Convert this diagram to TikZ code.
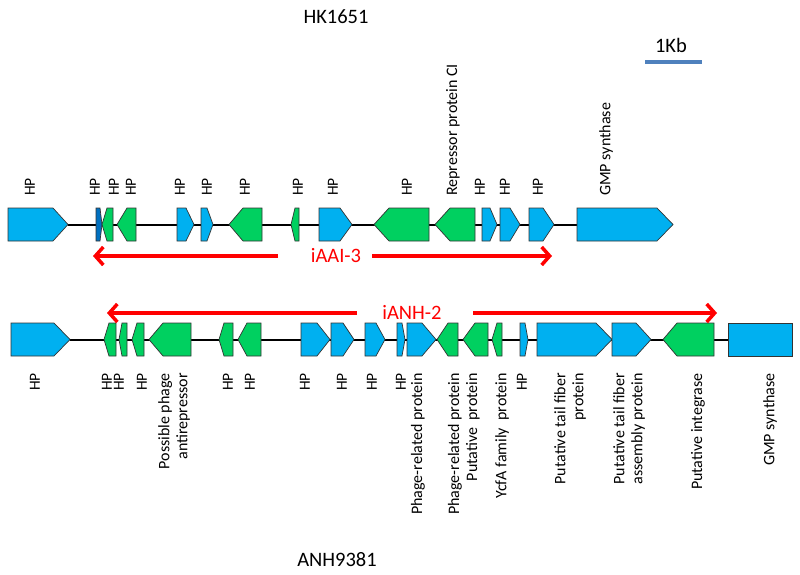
\documentclass[tikz,border=0pt]{standalone}
\usepackage{fontspec}
\setmainfont{Carlito}
\usetikzlibrary{arrows.meta}
\definecolor{gblue}{RGB}{0,176,240}
\definecolor{ggreen}{RGB}{0,208,96}
\definecolor{gdark}{RGB}{0,112,192}
\definecolor{scalecol}{RGB}{79,129,189}
\tikzset{
  gene/.style={draw=black!80,line width=0.7pt,line join=miter},
  backbone/.style={draw=black,line width=2pt},
  lbtop/.style={rotate=90,anchor=west,inner sep=0pt,font=\fontsize{15.5}{16}\selectfont},
  lbtoplong/.style={rotate=90,anchor=west,inner sep=0pt,font=\fontsize{16}{18}\selectfont},
  lbbot/.style={rotate=90,anchor=east,inner sep=0pt,font=\fontsize{15.5}{16}\selectfont},
  lbbotlong/.style={rotate=90,anchor=east,inner sep=0pt,align=right,font=\fontsize{16}{18}\selectfont},
  title/.style={inner sep=0pt,font=\fontsize{20.5}{24}\selectfont},
  redlab/.style={inner sep=0pt,text=red,font=\fontsize{20.5}{24}\selectfont},
  redarrow/.style={draw=red,line width=3.5pt,-{Straight Barb[length=8pt,width=18pt]}}
}
\newcommand\gR[5]{\draw[gene,fill=#1] (#2,#5-16.5) -- (#3,#5-16.5) -- (#4,#5) -- (#3,#5+16.5) -- (#2,#5+16.5) -- cycle;}
\newcommand\gL[5]{\draw[gene,fill=#1] (#2,#5) -- (#3,#5-16.5) -- (#4,#5-16.5) -- (#4,#5+16.5) -- (#3,#5+16.5) -- cycle;}
\begin{document}
\begin{tikzpicture}[x=1pt,y=-1pt]
\useasboundingbox[fill=white] (0,0) rectangle (800,575);
% titles
\node[title] (hk) at (336,17) {HK1651};
\node[title] (anh) at (337,560) {ANH9381};
\node[title] (kb) at (671,45) {1Kb};
\coordinate (sbl) at (645,62);
\coordinate (sbr) at (702,62);
\draw[draw=scalecol,line width=4pt] (sbl) -- (sbr);
% ---------- top track ----------
\coordinate (tA) at (68,224.5);
\coordinate (tB) at (577,224.5);
\draw[backbone] (tA) -- (tB);
\gR{gblue}{8}{53}{68}{224.5}
\gR{gdark}{96}{100}{102}{224.5}
\gL{ggreen}{102}{107}{113}{224.5}
\gL{ggreen}{117}{127}{136}{224.5}
\gR{gblue}{177}{186}{194}{224.5}
\gR{gblue}{201}{207}{213}{224.5}
\gL{ggreen}{229}{243}{262}{224.5}
\gL{ggreen}{291}{295}{299}{224.5}
\gR{gblue}{319}{340}{352}{224.5}
\gL{ggreen}{374}{389}{429}{224.5}
\gL{ggreen}{435}{450}{475}{224.5}
\gR{gblue}{482}{490}{497}{224.5}
\gR{gblue}{500}{510}{520}{224.5}
\gR{gblue}{529}{543}{554}{224.5}
\gR{gblue}{577}{657}{673}{224.5}
\foreach \x [count=\i] in {30,95,114,131,180,207,245,298,333,407,480,505,538}
  \node[lbtop] (th\i) at (\x,196) {HP};
\node[lbtoplong] (trep) at (453,196) {Repressor protein CI};
\node[lbtoplong] (tgmp) at (606,196) {GMP synthase};
% top red arrow
\node[redlab] (iaai) at (336,256) {iAAI-3};
\coordinate (ia1) at (278,256);
\coordinate (ia2) at (93,256);
\coordinate (ia3) at (372,256);
\coordinate (ia4) at (552,256);
\draw[redarrow] (ia1) -- (ia2);
\draw[redarrow] (ia3) -- (ia4);
% ---------- bottom track ----------
\coordinate (bA) at (70,339.5);
\coordinate (bB) at (728,339.5);
\draw[backbone] (bA) -- (bB);
\gR{gblue}{11}{54}{70}{339.5}
\gL{ggreen}{104}{109}{116}{339.5}
\gL{ggreen}{119}{122}{127}{339.5}
\gL{ggreen}{132}{137}{144}{339.5}
\gL{ggreen}{149}{163}{191}{339.5}
\gL{ggreen}{219}{224}{233}{339.5}
\gL{ggreen}{238}{247}{261}{339.5}
\gR{gblue}{301}{317}{330}{339.5}
\gR{gblue}{331}{343}{354}{339.5}
\gR{gblue}{365}{376}{385}{339.5}
\gR{gblue}{397}{402}{405}{339.5}
\gR{gblue}{407}{422}{436}{339.5}
\gL{ggreen}{437}{448}{458}{339.5}
\gL{ggreen}{463}{475}{488}{339.5}
\gL{ggreen}{492}{497}{502}{339.5}
\gR{gblue}{520}{525}{528}{339.5}
\gR{gblue}{537}{596}{612}{339.5}
\gR{gblue}{612}{636}{651}{339.5}
\gL{ggreen}{663}{677}{714}{339.5}
\draw[gene,fill=gblue] (728,323) rectangle (792,356);
\foreach \x [count=\i] in {35,107,119,142,228,250,305,342,372,401,522}
  \node[lbbot] (bh\i) at (\x,373) {HP};
\node[lbbotlong] (bpp) at (174,373) {Possible phage\\antirepressor};
\node[lbbotlong] (bpr1) at (418,373) {Phage-related protein};
\node[lbbotlong] (bpr2) at (455,373) {Phage-related protein};
\node[lbbotlong] (bpu) at (473,373) {Putative\ \ protein};
\node[lbbotlong] (bycf) at (502,373) {YcfA family\ \ protein};
\node[lbbotlong] (btf) at (570,373) {Putative tail fiber\\protein};
\node[lbbotlong] (btfa) at (629,373) {Putative tail fiber\\assembly protein};
\node[lbbotlong] (bint) at (698,373) {Putative integrase};
\node[lbbotlong] (bgmp) at (770,373) {GMP synthase};
% bottom red arrow
\node[redlab] (ianh) at (412,312) {iANH-2};
\coordinate (ib1) at (357,313);
\coordinate (ib2) at (107,313);
\coordinate (ib3) at (473,313);
\coordinate (ib4) at (717,313);
\draw[redarrow] (ib1) -- (ib2);
\draw[redarrow] (ib3) -- (ib4);
\end{tikzpicture}
\end{document}
